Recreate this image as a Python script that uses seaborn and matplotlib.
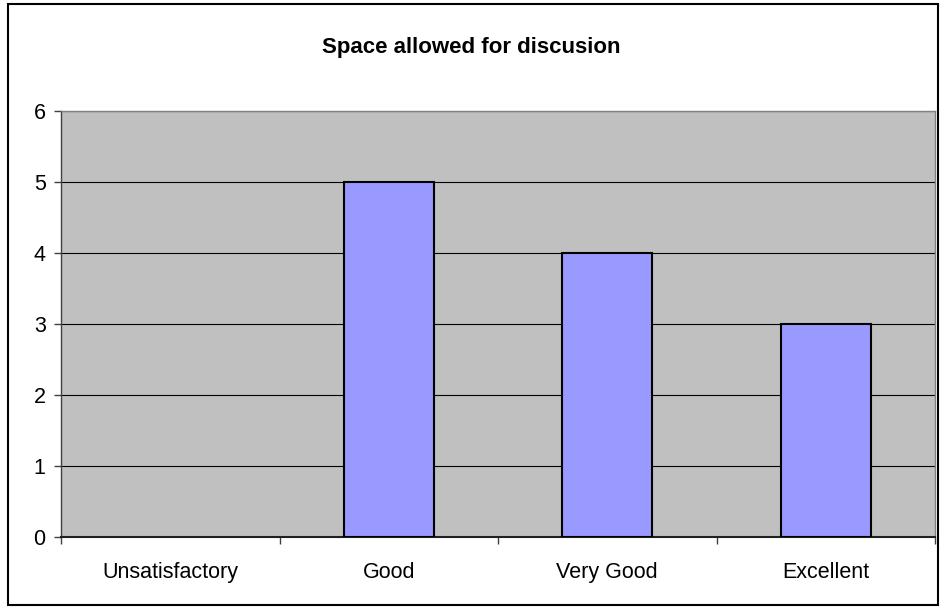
import matplotlib
matplotlib.use("Agg")
import matplotlib.pyplot as plt
import seaborn as sns
import pandas as pd
from matplotlib.patches import Rectangle

categories = ["Unsatisfactory", "Good", "Very Good", "Excellent"]
values = [0, 5, 4, 3]
yticks = [0, 1, 2, 3, 4, 5, 6]
title = "Space allowed for discusion"

sns.set_theme(style="white")
plt.rcParams['font.family'] = ['Liberation Sans', 'DejaVu Sans']
plt.rcParams['text.color'] = 'black'

df = pd.DataFrame({"cat": categories, "val": values})

fig = plt.figure(figsize=(9.42, 6.08), dpi=100)
ax = fig.add_axes([61/942, 1-537/608, (935-61)/942, (537-111)/608])

sns.barplot(data=df, x="cat", y="val", ax=ax, color="#9999FF", width=0.41,
            edgecolor="black", linewidth=1.5, saturation=1, zorder=3)
for p in ax.patches:
    if p.get_height() == 0:
        p.set_linewidth(0)

ax.set_facecolor("#C0C0C0")
ax.set_ylim(0, 6)
ax.set_xlim(-0.5, 3.5)
ax.set_yticks(yticks)
ax.set_yticklabels([str(t) for t in yticks], fontsize=15.5, color="black")
ax.set_xticks(range(len(categories)))
ax.set_xticklabels(categories, fontsize=15.5, color="black")
ax.tick_params(axis="x", length=0, pad=18)
ax.tick_params(axis="y", length=5, width=1, color="#404040", pad=6, left=True, direction="out")
ax.set_xticks([-0.5, 0.5, 1.5, 2.5, 3.5], minor=True)
ax.tick_params(axis="x", which="minor", length=5, width=1, color="#404040", bottom=True, direction="out")
ax.set_xlabel("")
ax.set_ylabel("")
ax.grid(axis="y", color="black", linewidth=0.8, zorder=1)
ax.set_axisbelow(True)
for s in ["top", "right"]:
    ax.spines[s].set_color("#808080")
    ax.spines[s].set_linewidth(1)
ax.spines["left"].set_color("#404040")
ax.spines["left"].set_linewidth(1)
ax.spines["bottom"].set_color("#202020")
ax.spines["bottom"].set_linewidth(1.5)

fig.text(0.5, 1-48/608, title, ha="center", va="center", fontsize=16,
         fontweight="bold", color="black")
fig.patches.append(Rectangle((8/942, 3/608), (938-8)/942, (604-3)/608, transform=fig.transFigure,
                             fill=False, edgecolor="black", linewidth=1.5))

fig.savefig("out.png", dpi=100)
